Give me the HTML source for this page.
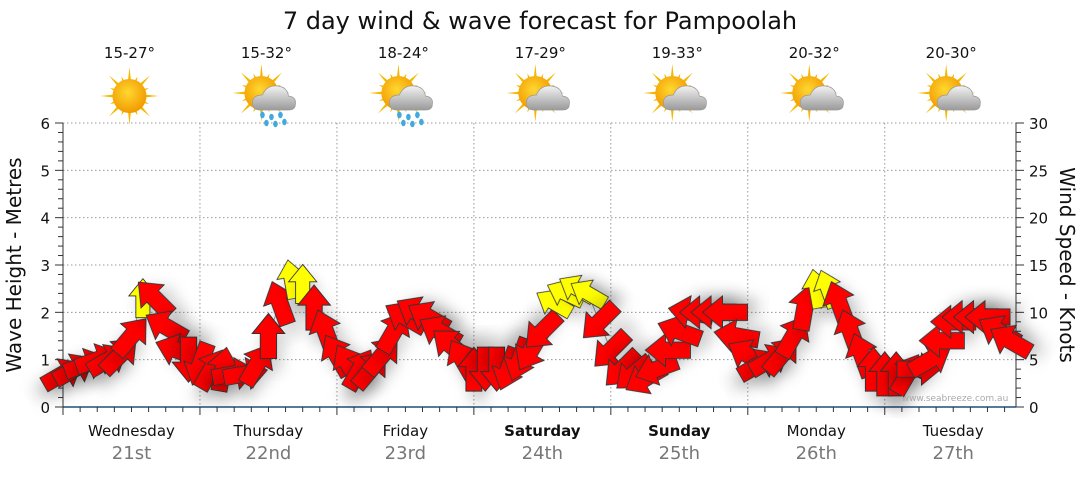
<!DOCTYPE html>
<html><head><meta charset="utf-8"><style>
body{margin:0;background:#fff;width:1080px;height:475px;overflow:hidden;font-family:"Liberation Sans","DejaVu Sans",sans-serif}
</style></head><body>
<svg id="chart" width="1080" height="475" xmlns="http://www.w3.org/2000/svg" font-family="DejaVu Sans, Liberation Sans, sans-serif">
<defs>
<filter id="sh" x="-50%" y="-50%" width="200%" height="200%"><feDropShadow dx="4" dy="9" stdDeviation="6" flood-color="#000" flood-opacity="0.18"/></filter>
<radialGradient id="sunG" cx="45%" cy="40%" r="60%"><stop offset="0" stop-color="#ffd830"/><stop offset="1" stop-color="#f29a00"/></radialGradient>
<linearGradient id="cloudG" x1="0" y1="0" x2="0" y2="1"><stop offset="0" stop-color="#f2f2f2"/><stop offset="1" stop-color="#9a9a9a"/></linearGradient>
</defs>
<text x="540" y="29" font-size="24" text-anchor="middle" fill="#111">7 day wind &amp; wave forecast for Pampoolah</text>
<g id="grid"></g>
<g id="axes"></g>
<g id="days"></g>
<g id="wx"></g>
<g id="marks"></g>
<text x="955" y="401" font-size="9" fill="#aaa" text-anchor="middle">www.seabreeze.com.au</text>
<text transform="translate(21,265) rotate(-90)" font-size="20" text-anchor="middle" fill="#111">Wave Height - Metres</text>
<text transform="translate(1060,265) rotate(90)" font-size="20" text-anchor="middle" fill="#111">Wind Speed - Knots</text>
</svg>
<script>
const dayNames=["Wednesday","Thursday","Friday","Saturday","Sunday","Monday","Tuesday"];
const dayDates=["21st","22nd","23rd","24th","25th","26th","27th"];
const tempRanges=["15-27°","15-32°","18-24°","17-29°","19-33°","20-32°","20-30°"];
const weatherTypes=["sun","rain","rain","cloud","cloud","cloud","cloud"];
const leftTicks=[0,1,2,3,4,5,6];
const rightTicks=[0,5,10,15,20,25,30];
const hours=[0,2,4,6,8,10,12,14,16,18,20,22,24,26,28,30,32,34,36,38,40,42,44,46,48,50,52,54,56,58,60,62,64,66,68,70,72,74,76,78,80,82,84,86,88,90,92,94,96,98,100,102,104,106,108,110,112,114,116,118,120,122,124,126,128,130,132,134,136,138,140,142,144,146,148,150,152,154,156,158,160,162,164,166];
const waveHeights=[0.7,0.8,0.9,1.0,1.0,1.1,1.5,2.3,2.3,1.7,1.2,1.0,0.9,0.8,0.8,0.7,0.7,0.9,1.5,2.2,2.7,2.6,2.1,1.6,1.1,0.9,0.8,0.8,1.1,1.6,1.9,2.0,1.9,1.6,1.3,1.0,0.8,0.8,0.8,0.8,1.0,1.2,1.6,2.2,2.4,2.5,2.4,1.8,1.2,0.8,0.7,0.6,0.8,1.2,1.6,2.0,2.0,2.0,2.0,1.5,1.1,0.9,1.0,1.1,1.5,2.1,2.5,2.5,2.2,1.6,1.1,0.8,0.7,0.7,0.7,0.8,1.0,1.4,1.8,1.9,1.9,1.9,1.6,1.4];
const windDirs=[60,60,70,70,60,45,40,0,315,300,290,180,200,30,10,80,80,30,0,340,350,0,0,340,330,330,30,40,40,30,300,300,300,300,310,330,0,180,180,200,200,210,225,300,295,300,300,225,225,225,230,240,250,270,290,280,270,270,270,280,300,60,60,40,30,10,350,340,340,340,340,0,0,0,30,90,60,270,270,270,270,270,300,300];
const windSpeeds=[13,13,13,13,13,14,14,8,14,14,14,14,13,13,13,13,13,14,14,14,8,8,14,14,14,13,13,13,14,14,14,14,14,14,14,13,13,13,13,13,13,14,14,8,8,8,8,14,14,14,13,13,13,14,14,14,14,14,14,14,13,13,13,13,14,14,8,8,14,14,14,13,13,13,13,13,14,14,14,14,14,14,14,14];

const X0=63,X1=1016,Y0=407,Y1=123,HOURS=167;
const xs=h=>X0+h*(X1-X0)/HOURS;
const ys=v=>Y0-v*(Y0-Y1)/6;
const NS="http://www.w3.org/2000/svg";
function mk(parent,tag,attrs){const e=document.createElementNS(NS,tag);for(const k in attrs)e.setAttribute(k,attrs[k]);parent.appendChild(e);return e;}
const grid=document.getElementById('grid'),axes=document.getElementById('axes'),days=document.getElementById('days'),wx=document.getElementById('wx'),marks=document.getElementById('marks');

leftTicks.forEach(v=>{
  if(v>0){const l=mk(grid,'line',{x1:X0,x2:X1,y1:ys(v),y2:ys(v),stroke:'#999','stroke-dasharray':'1.5 2.5'});
  }
  const t=mk(axes,'text',{x:X0-13,y:ys(v)+6,'font-size':15,'text-anchor':'end',fill:'#111'});t.textContent=v;
  
});
rightTicks.forEach(v=>{
  const t=mk(axes,'text',{x:X1+13,y:ys(v/5)+6,'font-size':15,fill:'#111'});t.textContent=v;
  
});
for(let i=0;i<=30;i++){const y=Y0-i*(Y0-Y1)/30;const w=i%5==0?8:5;
  mk(axes,'line',{x1:X0-w,x2:X0,y1:y,y2:y,stroke:'#333'});mk(axes,'line',{x1:X1,x2:X1+w,y1:y,y2:y,stroke:'#333'});}
mk(axes,'line',{x1:X0,x2:X0,y1:Y1,y2:Y0,stroke:'#333'});
mk(axes,'line',{x1:X1,x2:X1,y1:Y1,y2:Y0,stroke:'#333'});
const xa=mk(axes,'line',{x1:X0,x2:X1,y1:Y0,y2:Y0,stroke:'#1f4e79','stroke-width':1.5});

for(let h=0;h<=HOURS;h+=3){const maj=h%24==0;mk(axes,'line',{x1:xs(h),x2:xs(h),y1:Y0,y2:Y0+(maj?8:5),stroke:'#333'});}

dayNames.forEach((d,i)=>{
  const cx=xs(i*24+12);
  if(i>0){const g=mk(grid,'line',{x1:xs(i*24),x2:xs(i*24),y1:Y1,y2:Y0,stroke:'#999','stroke-dasharray':'1.5 2.5'});
    }
  const bold=(d=="Saturday"||d=="Sunday");
  const t=mk(days,'text',{x:cx,y:436,'font-size':15,'text-anchor':'middle',fill:'#111','font-weight':bold?'bold':'normal'});t.textContent=d;
  
  const t2=mk(days,'text',{x:cx,y:459,'font-size':18,'text-anchor':'middle',fill:'#777'});t2.textContent=dayDates[i];
  
  const t3=mk(wx,'text',{x:cx-2,y:58,'font-size':15,'text-anchor':'middle',fill:'#111'});t3.textContent=tempRanges[i];
  
  const g=mk(wx,'g',{transform:`translate(${cx-2},96)`});
  
  const sx=weatherTypes[i]=="sun"?0:-5, sy=weatherTypes[i]=="sun"?0:-3;
  for(let a=0;a<360;a+=22.5){const r=(a*Math.PI)/180,L=(a/22.5)%2?21:29;
    mk(g,'polygon',{points:`${sx+Math.cos(r-0.12)*14},${sy+Math.sin(r-0.12)*14} ${sx+Math.cos(r)*L},${sy+Math.sin(r)*L} ${sx+Math.cos(r+0.12)*14},${sy+Math.sin(r+0.12)*14}`,fill:'#f5b800'});}
  mk(g,'circle',{cx:sx,cy:sy,r:17,fill:'url(#sunG)'});
  if(weatherTypes[i]!="sun"){
    mk(g,'path',{d:'M-6,14 Q-14,14 -14,7 Q-14,-1 -4,-1 Q0,-11 11,-10 Q21,-9 22,0 Q30,1 29,8 Q29,14 22,14 Z',fill:'url(#cloudG)',stroke:'#999','stroke-width':0.7});
    if(weatherTypes[i]=="rain"){[[-4,19],[5,21],[14,19],[0,27],[9,28],[18,26]].forEach(p=>mk(g,'ellipse',{cx:p[0],cy:p[1],rx:2.3,ry:3.2,fill:'#3fa9e0'}));}
  }
});

const pts=hours.map((h,i)=>xs(h)+','+ys(waveHeights[i])).join(' ');
const pl=mk(marks,'polyline',{points:pts,fill:'none',stroke:'#999','stroke-width':1});

hours.forEach((h,i)=>{
  const L=31+windSpeeds[i]*1.0, s=L/36;
  const col=windSpeeds[i]<10?'#ffff00':'#ff0000';
  const g=mk(marks,'g',{transform:`translate(${xs(h)},${ys(waveHeights[i])}) rotate(${windDirs[i]}) scale(${s})`,filter:'url(#sh)'});
  
  mk(g,'polygon',{points:'0,-18 13,-2 6.5,-2 6.5,18 -6.5,18 -6.5,-2 -13,-2',fill:col,stroke:'#333','stroke-width':0.8});
});
</script>
</body></html>
